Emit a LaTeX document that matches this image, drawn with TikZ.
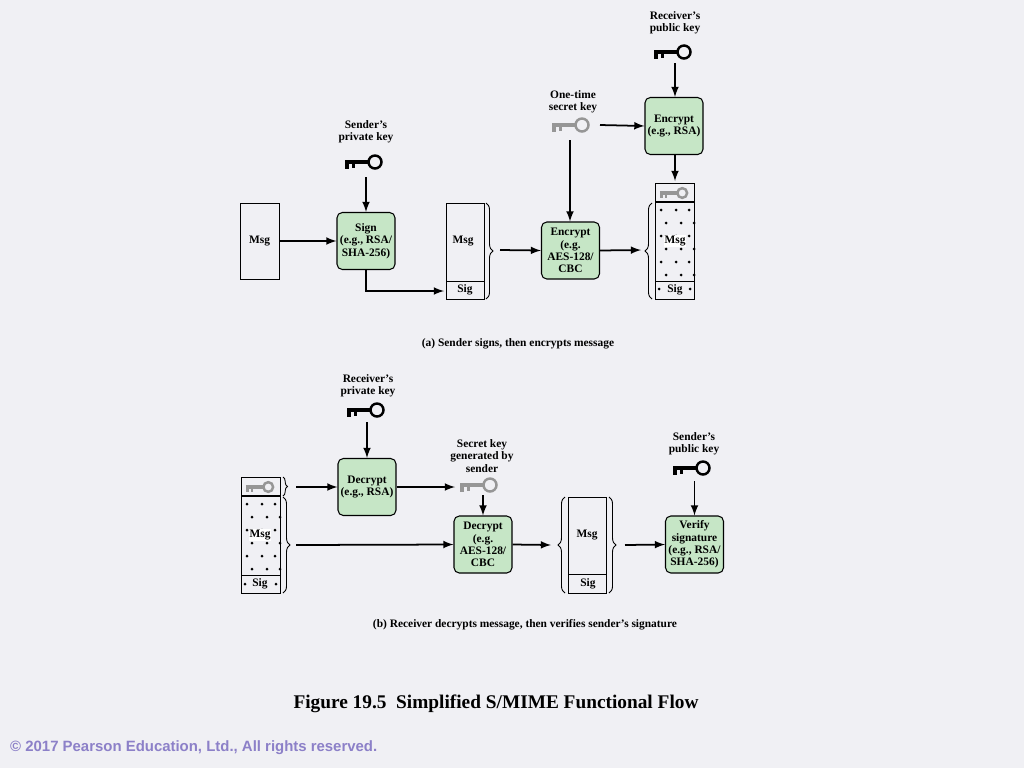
\documentclass[tikz,border=0pt]{standalone}
\usepackage{fontspec}
\setmainfont{Liberation Serif}
\newfontfamily\copyfont{Liberation Sans}
\usetikzlibrary{positioning, decorations.pathreplacing}

\definecolor{boxgreen}{RGB}{198,230,198}
\definecolor{paper}{RGB}{240,240,244}
\definecolor{keygray}{RGB}{150,150,150}
\definecolor{copyblue}{RGB}{140,128,200}

\tikzset{
  proc/.style={draw, fill=boxgreen, rounded corners=3pt, line width=0.6pt,
    minimum width=1.16cm, minimum height=1.14cm, align=center,
    inner sep=1pt, font=\bfseries\fontsize{6.5}{7}\selectfont},
  lbl/.style={align=center, font=\bfseries\fontsize{6.5}{7}\selectfont},
  txt/.style={font=\bfseries\fontsize{6.5}{7}\selectfont},
  flow/.style={->, >=latex, line width=1pt},
  brc/.style={decorate, decoration={brace, amplitude=4pt}, line width=0.5pt},
  pics/keyicon/.style={code={
    \draw[line width=2.2pt, #1] (-19,0) -- (5,0);
    \fill[#1] (-19,0) rectangle (-15,7);
    \fill[#1] (-12,0) rectangle (-9,6);
    \draw[line width=1.4pt, #1] (11,0) circle (6.5);
  }}
}

\begin{document}
\begin{tikzpicture}[x=0.02cm, y=-0.02cm]
  \useasboundingbox[fill=paper] (0,0) rectangle (1024,768);

  % (a) sender side
  \node[draw, minimum width=0.78cm, minimum height=1.52cm, txt] (msgA) at (259.5,241) {Msg};
  \node[proc] (sign) at (366,241) {Sign\\(e.g., RSA/\\SHA-256)};
  \node[lbl] (sprivL) at (366,132) {Sender's\\private key};
  \pic at (364,162) {keyicon=black};
  \coordinate (sprivK) at (366,177);
  \draw[flow] (sprivK) -- (sign.north);
  \draw[flow] (msgA.east) -- (sign.west);

  \draw (446,203) rectangle (484,299);
  \draw (446,281) -- (484,281);
  \node[txt] (msgB) at (463,241) {Msg};
  \node[txt] (sigB) at (465,290) {Sig};
  \draw[brc] (486,203) -- (486,299);
  \draw[flow] (sign.south) |- (444,291);

  \node[proc] (encA) at (570.5,250.5) {Encrypt\\(e.g.\\AES-128/\\CBC};
  \draw[flow] (500,250) -- (encA.west);
  \node[lbl] (otkL) at (573,102) {One-time\\secret key};
  \pic at (571,125) {keyicon=keygray};
  \coordinate (otkK) at (570,140);
  \draw[flow] (otkK) -- (encA.north -| otkK);

  \node[proc] (encR) at (674,126) {Encrypt\\(e.g., RSA)};
  \draw[flow] (600,125) -- (encR.west);
  \node[lbl] (rpubL) at (675,23) {Receiver's\\public key};
  \pic at (673,52) {keyicon=black};
  \coordinate (rpubK) at (675,63);
  \draw[flow] (rpubK) -- (rpubK |- encR.north);

  \draw (655,183) rectangle (694,299);
  \draw[line width=1pt] (655,202) -- (694,202);
  \draw (655,281) -- (694,281);
  \pic[scale=0.75] at (674,193) {keyicon=keygray};
  \foreach \r in {0,...,5}
    \foreach \c in {661,676,689}
      \fill ({\c+mod(\r,2)*5},{210+\r*13}) circle (1.5);
  \foreach \c in {659,690} \fill (\c,289) circle (1.5);
  \node[txt, fill=white, inner sep=0.5pt] (msgC) at (675,241) {Msg};
  \node[txt] (sigC) at (675,290) {Sig};
  \draw[brc] (652,299) -- (652,203);
  \draw[flow] (encA.east) -- (641,250);
  \draw[flow] (encR.south -| rpubK) -- (675,181);

  \node[txt] (capA) at (518,344) {(a) Sender signs, then encrypts message};

  % (b) receiver side
  \draw (241,477) rectangle (280,593);
  \draw[line width=1pt] (241,496) -- (280,496);
  \draw (241,575) -- (280,575);
  \pic[scale=0.75] at (260,487) {keyicon=keygray};
  \foreach \r in {0,...,5}
    \foreach \c in {247,262,275}
      \fill ({\c+mod(\r,2)*5},{504+\r*13}) circle (1.5);
  \foreach \c in {245,276} \fill (\c,584) circle (1.5);
  \node[txt, fill=white, inner sep=0.5pt] (msgD) at (260,535) {Msg};
  \node[txt] (sigD) at (260,584) {Sig};
  \draw[decorate, decoration={brace, amplitude=2.5pt}, line width=0.5pt] (283,477) -- (283,496);
  \draw[brc] (283,497) -- (283,593);

  \node[proc] (decR) at (367,487) {Decrypt\\(e.g., RSA)};
  \draw[flow] (296,487) -- (decR.west);
  \node[lbl] (rprivL) at (368,386) {Receiver's\\private key};
  \pic at (366,410) {keyicon=black};
  \coordinate (rprivK) at (367,422);
  \draw[flow] (rprivK) -- (decR.north);

  \node[lbl] (skL) at (482,456) {Secret key\\generated by\\sender};
  \pic at (479,485) {keyicon=keygray};
  \draw[flow] (decR.east) -- (455,487);
  \node[proc] (decA) at (483,544.5) {Decrypt\\(e.g.\\AES-128/\\CBC};
  \coordinate (skK) at (483,495);
  \draw[flow] (skK) -- (decA.north);
  \draw[flow] (296,545) -- (decA.west);

  \draw (568,497) rectangle (606,593);
  \draw (568,574) -- (606,574);
  \node[txt] (msgE) at (587,535) {Msg};
  \node[txt] (sigE) at (588,584) {Sig};
  \draw[brc] (565,593) -- (565,497);
  \draw[brc] (609,497) -- (609,593);
  \draw[flow] (decA.east) -- (551,545);

  \node[proc] (verify) at (694.5,544.5) {Verify\\signature\\(e.g., RSA/\\SHA-256)};
  \draw[flow] (625,545) -- (verify.west);
  \node[lbl] (spubL) at (694,444) {Sender's\\public key};
  \pic at (692,468) {keyicon=black};
  \coordinate (spubK) at (694.5,481);
  \draw[flow] (spubK) -- (verify.north);

  \node[txt] (capB) at (525,625) {(b) Receiver decrypts message, then verifies sender's signature};

  \node[font=\bfseries\fontsize{11}{13}\selectfont] (title) at (496,704) {Figure 19.5\ \ Simplified S/MIME Functional Flow};
  \node[anchor=west, text=copyblue, font=\copyfont\bfseries\fontsize{8.5}{9}\selectfont] (copy) at (4,748) {© 2017 Pearson Education, Ltd., All rights reserved.};
\end{tikzpicture}
\end{document}
